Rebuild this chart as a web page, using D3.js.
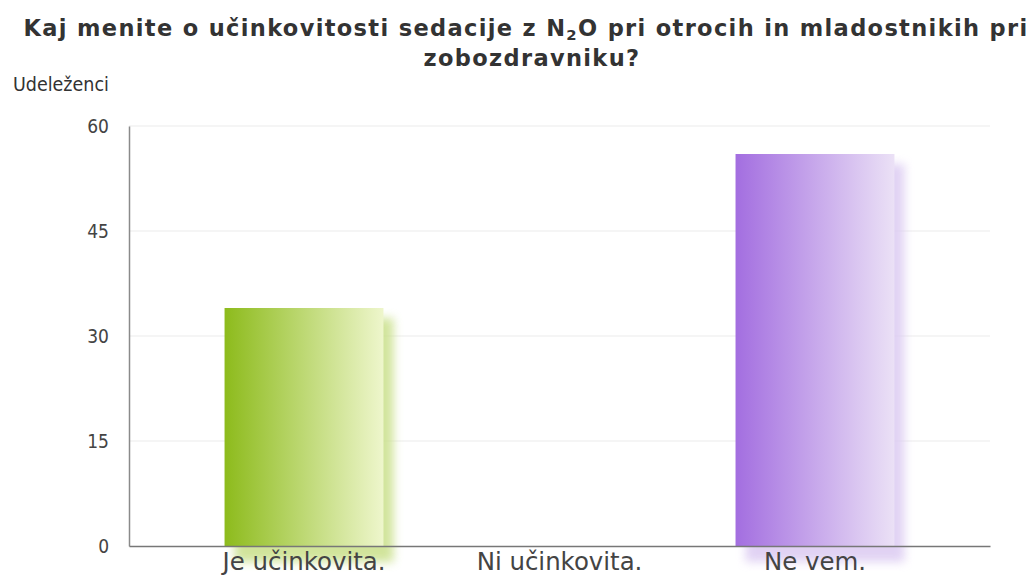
<!DOCTYPE html>
<html>
<head>
<meta charset="utf-8">
<script src="https://cdn.jsdelivr.net/npm/d3@7/dist/d3.min.js"></script>
<style>
  html, body { margin: 0; padding: 0; background: #fff; }
  svg { display: block; }
</style>
</head>
<body>
<svg id="chart" width="1036" height="579"></svg>
<script>
// Survey answers and participant counts
const categories = ["Je učinkovita.", "Ni učinkovita.", "Ne vem."];
const values = [34, 0, 56];
const yTicks = [0, 15, 30, 45, 60];
const barColors = [
  { dark: "#8dbb1c", light: "#eef6cc", shadow: "#c9e08a" },
  { dark: "#9b6fd6", light: "#ebe0f6", shadow: "#d8c6ef" },
  { dark: "#a36ee0", light: "#ebe1f6", shadow: "#dccbf2" }
];

const svg = d3.select("#chart");
const margin = { left: 129, right: 990, top: 126, bottom: 546 };

// Shrink or grow a text's font size so it spans the given width
function fitWidth(sel, width) {
  sel.each(function () {
    const node = this;
    const fs = parseFloat(d3.select(node).attr("font-size"));
    const w = node.getComputedTextLength();
    if (w > 0) d3.select(node).attr("font-size", (fs * width / w).toFixed(2));
  });
}

// Widen a text to the given width through letter spacing
function fitSpacing(sel, width) {
  sel.each(function () {
    const node = this;
    const n = node.textContent.length;
    const w = node.getComputedTextLength();
    if (w > 0 && n > 1) d3.select(node).attr("letter-spacing", Math.max(0, (width - w) / n).toFixed(3));
  });
}

const x = d3.scaleBand()
  .domain(categories)
  .range([margin.left, margin.right])
  .paddingInner(0.378)
  .paddingOuter(0.374);

const y = d3.scaleLinear().domain([0, 60]).range([margin.bottom, margin.top]);

const defs = svg.append("defs");
const blur = defs.append("filter").attr("id", "soft")
  .attr("x", "-30%").attr("y", "-30%").attr("width", "160%").attr("height", "160%");
blur.append("feGaussianBlur").attr("stdDeviation", 5);

barColors.forEach((c, i) => {
  const g = defs.append("linearGradient").attr("id", "grad" + i)
    .attr("x1", "0%").attr("x2", "100%").attr("y1", "0%").attr("y2", "0%");
  g.append("stop").attr("offset", "0%").attr("stop-color", c.dark);
  g.append("stop").attr("offset", "100%").attr("stop-color", c.light);
});

const titleFont = "'DejaVu Sans', Verdana, sans-serif";
const labelFont = "'DejaVu Sans Condensed', 'DejaVu Sans', sans-serif";
const titleSize = 22.5;

// Title, two lines
const title = svg.append("text")
  .attr("x", 526).attr("y", 36)
  .attr("text-anchor", "middle")
  .attr("font-family", titleFont)
  .attr("font-weight", "bold")
  .attr("font-size", titleSize)
  .attr("fill", "#333");
title.append("tspan").text("Kaj menite o učinkovitosti sedacije z N");
title.append("tspan").text("2").attr("font-size", "0.66em").attr("dy", 4);
title.append("tspan").text("O pri otrocih in mladostnikih pri").attr("dy", -4);
fitSpacing(title, 1005);

svg.append("text")
  .attr("x", 532).attr("y", 66)
  .attr("text-anchor", "middle")
  .attr("font-family", titleFont)
  .attr("font-weight", "bold")
  .attr("font-size", titleSize)
  .attr("fill", "#333")
  .attr("letter-spacing", title.attr("letter-spacing"))
  .text("zobozdravniku?");

// Axis title
const yTitle = svg.append("text")
  .attr("x", 13).attr("y", 91)
  .attr("font-family", labelFont)
  .attr("font-size", 15)
  .attr("fill", "#333")
  .text("Udeleženci");
fitWidth(yTitle, 96);

// Horizontal gridlines
svg.append("g")
  .selectAll("line")
  .data(yTicks.filter(t => t > 0))
  .join("line")
  .attr("x1", margin.left).attr("x2", margin.right)
  .attr("y1", d => y(d)).attr("y2", d => y(d))
  .attr("stroke", "#ebebeb").attr("stroke-width", 1);

// Y axis
const yAxis = svg.append("g")
  .attr("transform", `translate(${margin.left},0)`)
  .call(d3.axisLeft(y).tickValues(yTicks).tickSize(0).tickPadding(20));
yAxis.attr("font-size", null).attr("font-family", null);
yAxis.select(".domain").attr("stroke", "#8a8a8a").attr("stroke-width", 1.5);
yAxis.selectAll("text")
  .attr("font-family", labelFont)
  .attr("font-size", 19)
  .attr("fill", "#444");

// Bars: blurred offset shadow, then gradient body
const barData = values.map((v, i) => ({ v, i, c: categories[i] })).filter(d => d.v > 0);
const bars = svg.append("g");
bars.selectAll("rect.shadow")
  .data(barData)
  .join("rect")
  .attr("class", "shadow")
  .attr("x", d => x(d.c) + 10)
  .attr("y", d => y(d.v) + 10)
  .attr("width", x.bandwidth())
  .attr("height", d => y(0) - y(d.v) + 6)
  .attr("fill", d => barColors[d.i].shadow)
  .attr("opacity", 0.85)
  .attr("filter", "url(#soft)");

bars.selectAll("rect.bar")
  .data(barData)
  .join("rect")
  .attr("class", "bar")
  .attr("x", d => x(d.c))
  .attr("y", d => y(d.v))
  .attr("width", x.bandwidth())
  .attr("height", d => y(0) - y(d.v))
  .attr("fill", d => `url(#grad${d.i})`);

// X axis
const xAxis = svg.append("g")
  .attr("transform", `translate(0,${margin.bottom})`)
  .call(d3.axisBottom(x).tickSize(0).tickPadding(7));
xAxis.attr("font-size", null).attr("font-family", null);
xAxis.select(".domain").attr("stroke", "#777").attr("stroke-width", 1.5);
const xLabels = xAxis.selectAll("text")
  .attr("font-family", "'DejaVu Sans', Verdana, sans-serif")
  .attr("font-size", 18)
  .attr("fill", "#444");
// All category labels share one size, set from the first label's width
const first = xLabels.filter((d, i) => i === 0);
fitWidth(first, 163);
xLabels.attr("font-size", first.attr("font-size"));
</script>
</body>
</html>
